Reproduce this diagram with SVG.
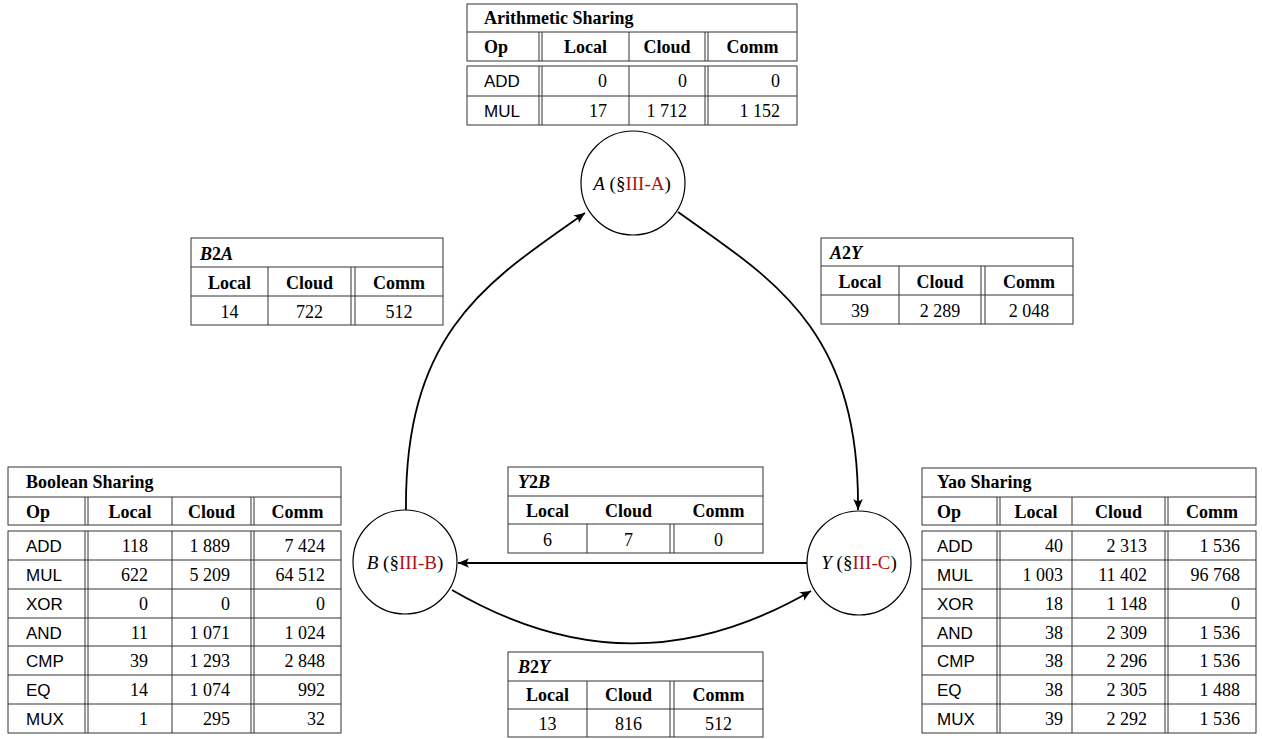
<svg xmlns="http://www.w3.org/2000/svg" width="1262" height="739" viewBox="0 0 1262 739">
<style>
.bg{fill:#ffffff}
.tb{fill:none;stroke:#333333;stroke-width:1}
.t{font-family:"Liberation Serif","Times New Roman",serif;font-size:18px;fill:#000}
.b{font-weight:bold}
.s{font-family:"Liberation Sans",Arial,sans-serif;font-size:17px;fill:#000}
.m{text-anchor:middle}
.e{text-anchor:end}
.i{font-style:italic}
.node{fill:#ffffff;stroke:#000;stroke-width:1.2}
.lbl{font-family:"Liberation Serif","Times New Roman",serif;font-size:19px;fill:#000;text-anchor:middle}
.ref{fill:#aa1414}
.edge{fill:none;stroke:#000;stroke-width:1.8}
</style>
<defs>
<marker id="arr" viewBox="-12 -6 13 12" refX="0" refY="0" markerWidth="13" markerHeight="12" markerUnits="userSpaceOnUse" orient="auto">
<path d="M0,0 L-11,-4.8 Q-7,0 -11,4.8 Z" fill="#000"/>
</marker>
</defs>
<rect class="bg" x="0" y="0" width="1262" height="739"/>

<g id="connectors">
<path class="edge" d="M406,511 C404,330 490,280 585,213" marker-end="url(#arr)"/>
<path class="edge" d="M678,212 C774,280 860,330 858,510" marker-end="url(#arr)"/>
<path class="edge" d="M807,563 L458,563" marker-end="url(#arr)"/>
<path class="edge" d="M452,590 C574,661 690,661 811,591" marker-end="url(#arr)"/>
</g>

<g id="node-A">
<circle class="node" cx="633" cy="183" r="52"/>
<text class="lbl" x="632" y="190"><tspan class="i">A</tspan> (§<tspan class="ref">III-A</tspan>)</text>
</g>
<g id="node-B">
<circle class="node" cx="405" cy="562" r="52"/>
<text class="lbl" x="405" y="569"><tspan class="i">B</tspan> (§<tspan class="ref">III-B</tspan>)</text>
</g>
<g id="node-Y">
<circle class="node" cx="859" cy="563" r="52"/>
<text class="lbl" x="859" y="569"><tspan class="i">Y</tspan>  (§<tspan class="ref">III-C</tspan>)</text>
</g>

<g id="table-arithmetic">
<rect class="tb" x="467" y="4" width="330" height="57"/>
<line class="tb" x1="467" y1="32" x2="797" y2="32"/>
<path class="tb" d="M539,32V61M542,32V61M629,32V61M705,32V61M708,32V61"/>
<rect class="tb" x="467" y="66" width="330" height="59"/>
<line class="tb" x1="467" y1="96" x2="797" y2="96"/>
<path class="tb" d="M539,66V125M542,66V125M629,66V125M705,66V125M708,66V125"/>
<text class="t b" x="484" y="24">Arithmetic Sharing</text>
<text class="t b" x="484" y="53">Op</text>
<text class="t b m" x="585.5" y="53">Local</text>
<text class="t b m" x="667" y="53">Cloud</text>
<text class="t b m" x="752.5" y="53">Comm</text>
<text class="s" x="484" y="87">ADD</text>
<text class="t e" x="607" y="87">0</text>
<text class="t e" x="687" y="87">0</text>
<text class="t e" x="780" y="87">0</text>
<text class="s" x="484" y="117">MUL</text>
<text class="t e" x="607" y="117">17</text>
<text class="t e" x="687" y="117">1 712</text>
<text class="t e" x="780" y="117">1 152</text>
</g>

<g id="table-b2a">
<rect class="tb" x="191" y="238" width="252" height="87"/>
<line class="tb" x1="191" y1="267" x2="443" y2="267"/>
<line class="tb" x1="191" y1="296" x2="443" y2="296"/>
<path class="tb" d="M268,267V325M351,267V325M355,267V325"/>
<text class="t b" x="200" y="260"><tspan class="i">B</tspan>2<tspan class="i">A</tspan></text>
<text class="t b m" x="229.5" y="289">Local</text>
<text class="t b m" x="309.5" y="289">Cloud</text>
<text class="t b m" x="399" y="289">Comm</text>
<text class="t m" x="229.5" y="318">14</text>
<text class="t m" x="309.5" y="318">722</text>
<text class="t m" x="399" y="318">512</text>
</g>

<g id="table-a2y">
<rect class="tb" x="821" y="238" width="252" height="86"/>
<line class="tb" x1="821" y1="266" x2="1073" y2="266"/>
<line class="tb" x1="821" y1="295" x2="1073" y2="295"/>
<path class="tb" d="M899,266V324M981,266V324M985,266V324"/>
<text class="t b" x="830" y="259"><tspan class="i">A</tspan>2<tspan class="i">Y</tspan></text>
<text class="t b m" x="860" y="288">Local</text>
<text class="t b m" x="940" y="288">Cloud</text>
<text class="t b m" x="1029" y="288">Comm</text>
<text class="t m" x="860" y="317">39</text>
<text class="t m" x="940" y="317">2 289</text>
<text class="t m" x="1029" y="317">2 048</text>
</g>

<g id="table-y2b">
<rect class="tb" x="508" y="467" width="255" height="86"/>
<line class="tb" x1="508" y1="496" x2="763" y2="496"/>
<line class="tb" x1="508" y1="524" x2="763" y2="524"/>
<path class="tb" d="M587,524V553M670,524V553M674,524V553"/>
<text class="t b" x="518" y="488"><tspan class="i">Y</tspan>2<tspan class="i">B</tspan></text>
<text class="t b m" x="547.5" y="517">Local</text>
<text class="t b m" x="628.5" y="517">Cloud</text>
<text class="t b m" x="718.5" y="517">Comm</text>
<text class="t m" x="547.5" y="546">6</text>
<text class="t m" x="628.5" y="546">7</text>
<text class="t m" x="718.5" y="546">0</text>
</g>

<g id="table-b2y">
<rect class="tb" x="508" y="652" width="255" height="85"/>
<line class="tb" x1="508" y1="681" x2="763" y2="681"/>
<line class="tb" x1="508" y1="709" x2="763" y2="709"/>
<path class="tb" d="M587,681V737M670,681V737M674,681V737"/>
<text class="t b" x="518" y="673"><tspan class="i">B</tspan>2<tspan class="i">Y</tspan></text>
<text class="t b m" x="547.5" y="701">Local</text>
<text class="t b m" x="628.5" y="701">Cloud</text>
<text class="t b m" x="718.5" y="701">Comm</text>
<text class="t m" x="547.5" y="730">13</text>
<text class="t m" x="628.5" y="730">816</text>
<text class="t m" x="718.5" y="730">512</text>
</g>

<g id="table-boolean">
<rect class="tb" x="8" y="467" width="333" height="58"/>
<line class="tb" x1="8" y1="497" x2="341" y2="497"/>
<path class="tb" d="M85,497V525M88,497V525M172,497V525M251,497V525M254,497V525"/>
<rect class="tb" x="8" y="531" width="333" height="202"/>
<path class="tb" d="M8,560H341M8,589H341M8,618H341M8,646H341M8,675H341M8,704H341"/>
<path class="tb" d="M85,531V733M88,531V733M172,531V733M251,531V733M254,531V733"/>
<text class="t b" x="26" y="488">Boolean Sharing</text>
<text class="t b" x="26" y="518">Op</text>
<text class="t b m" x="130" y="518">Local</text>
<text class="t b m" x="211.5" y="518">Cloud</text>
<text class="t b m" x="297.5" y="518">Comm</text>
<text class="s" x="26" y="552">ADD</text><text class="t e" x="148" y="552">118</text><text class="t e" x="230" y="552">1 889</text><text class="t e" x="325" y="552">7 424</text>
<text class="s" x="26" y="581">MUL</text><text class="t e" x="148" y="581">622</text><text class="t e" x="230" y="581">5 209</text><text class="t e" x="325" y="581">64 512</text>
<text class="s" x="26" y="610">XOR</text><text class="t e" x="148" y="610">0</text><text class="t e" x="230" y="610">0</text><text class="t e" x="325" y="610">0</text>
<text class="s" x="26" y="639">AND</text><text class="t e" x="148" y="639">11</text><text class="t e" x="230" y="639">1 071</text><text class="t e" x="325" y="639">1 024</text>
<text class="s" x="26" y="667">CMP</text><text class="t e" x="148" y="667">39</text><text class="t e" x="230" y="667">1 293</text><text class="t e" x="325" y="667">2 848</text>
<text class="s" x="26" y="696">EQ</text><text class="t e" x="148" y="696">14</text><text class="t e" x="230" y="696">1 074</text><text class="t e" x="325" y="696">992</text>
<text class="s" x="26" y="725">MUX</text><text class="t e" x="148" y="725">1</text><text class="t e" x="230" y="725">295</text><text class="t e" x="325" y="725">32</text>
</g>

<g id="table-yao">
<rect class="tb" x="922" y="468" width="334" height="57"/>
<line class="tb" x1="922" y1="497" x2="1256" y2="497"/>
<path class="tb" d="M997,497V525M1000,497V525M1072,497V525M1165,497V525M1168,497V525"/>
<rect class="tb" x="922" y="531" width="334" height="202"/>
<path class="tb" d="M922,560H1256M922,589H1256M922,618H1256M922,646H1256M922,675H1256M922,704H1256"/>
<path class="tb" d="M997,531V733M1000,531V733M1072,531V733M1165,531V733M1168,531V733"/>
<text class="t b" x="937" y="488">Yao Sharing</text>
<text class="t b" x="937" y="518">Op</text>
<text class="t b m" x="1036" y="518">Local</text>
<text class="t b m" x="1118.5" y="518">Cloud</text>
<text class="t b m" x="1212" y="518">Comm</text>
<text class="s" x="937" y="552">ADD</text><text class="t e" x="1063" y="552">40</text><text class="t e" x="1147" y="552">2 313</text><text class="t e" x="1240" y="552">1 536</text>
<text class="s" x="937" y="581">MUL</text><text class="t e" x="1063" y="581">1 003</text><text class="t e" x="1147" y="581">11 402</text><text class="t e" x="1240" y="581">96 768</text>
<text class="s" x="937" y="610">XOR</text><text class="t e" x="1063" y="610">18</text><text class="t e" x="1147" y="610">1 148</text><text class="t e" x="1240" y="610">0</text>
<text class="s" x="937" y="639">AND</text><text class="t e" x="1063" y="639">38</text><text class="t e" x="1147" y="639">2 309</text><text class="t e" x="1240" y="639">1 536</text>
<text class="s" x="937" y="667">CMP</text><text class="t e" x="1063" y="667">38</text><text class="t e" x="1147" y="667">2 296</text><text class="t e" x="1240" y="667">1 536</text>
<text class="s" x="937" y="696">EQ</text><text class="t e" x="1063" y="696">38</text><text class="t e" x="1147" y="696">2 305</text><text class="t e" x="1240" y="696">1 488</text>
<text class="s" x="937" y="725">MUX</text><text class="t e" x="1063" y="725">39</text><text class="t e" x="1147" y="725">2 292</text><text class="t e" x="1240" y="725">1 536</text>
</g>
</svg>
